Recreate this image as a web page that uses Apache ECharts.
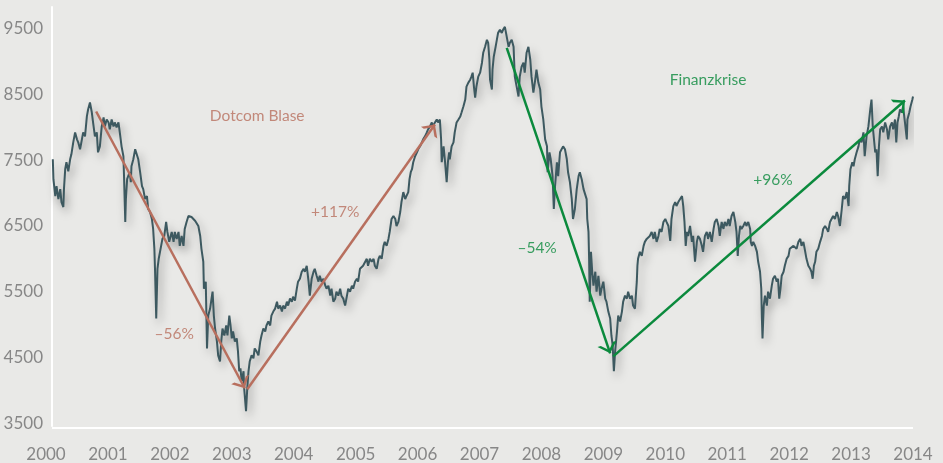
<!DOCTYPE html>
<html>
<head>
<meta charset="utf-8">
<script src="https://cdn.jsdelivr.net/npm/echarts@6/dist/echarts.min.js"></script>
<style>
html, body { margin: 0; padding: 0; background: #e9e9e7; }
#chart { width: 943px; height: 463px; }
</style>
</head>
<body>
<div id="chart"></div>
<script>
// Index (daily close) split by period: [year, value]
const smi2000 = [[2000.11,7515],[2000.12,7212],[2000.15,6954],[2000.17,7106],[2000.20,6909],[2000.23,7061],[2000.25,6864],[2000.28,6788],[2000.29,7061],[2000.31,7364],[2000.33,7470],[2000.36,7333],[2000.39,7515],[2000.41,7591],[2000.44,7773],[2000.47,7924],[2000.50,7818],[2000.52,7773],[2000.55,7667],[2000.58,7818],[2000.60,7924],[2000.63,7864],[2000.66,8167],[2000.68,8273],[2000.71,8379],[2000.74,8227],[2000.76,8076],[2000.79,7864],[2000.82,7924],[2000.84,7621],[2000.87,7712],[2000.90,8015],[2000.93,8152],[2000.95,8015],[2000.98,8121],[2001.01,8076],[2001.03,7970],[2001.06,8121],[2001.09,8015],[2001.11,8076],[2001.14,8000],[2001.17,8076],[2001.20,7864],[2001.22,7712],[2001.25,7561],[2001.26,7258],[2001.28,6561],[2001.29,6909],[2001.31,7212],[2001.35,7318],[2001.37,7167],[2001.38,7409],[2001.41,7515],[2001.44,7667],[2001.46,7697],[2001.49,7515],[2001.52,7318],[2001.55,7106],[2001.57,7061],[2001.60,6909],[2001.63,6954],[2001.65,6758],[2001.68,6712],[2001.71,6606],[2001.73,6455],[2001.75,6152],[2001.76,5848],[2001.78,5091],[2001.80,5848],[2001.82,6000],[2001.85,6152],[2001.88,6303],[2001.91,6348],[2001.94,6561],[2001.96,6409],[2001.99,6258],[2002.03,6409],[2002.06,6258],[2002.08,6409],[2002.11,6303],[2002.14,6409],[2002.16,6197],[2002.19,6348],[2002.22,6197],[2002.24,6455],[2002.27,6561],[2002.30,6652],[2002.33,6682],[2002.35,6636],[2002.38,6652],[2002.41,6576],[2002.43,6606],[2002.46,6500],[2002.49,6348]];
const smi2002 = [[2002.51,6152],[2002.54,5955],[2002.55,5545],[2002.58,5652],[2002.60,4636],[2002.62,5136],[2002.65,5242],[2002.68,5439],[2002.69,5500],[2002.71,5136],[2002.73,4939],[2002.76,4742],[2002.78,4530],[2002.81,4439],[2002.83,4742],[2002.85,4939],[2002.88,4833],[2002.91,4985],[2002.93,4833],[2002.96,5136],[2002.98,4985],[2003.00,4788],[2003.02,4894],[2003.05,4742],[2003.08,4788],[2003.10,4591],[2003.12,4288],[2003.14,4333],[2003.16,4136],[2003.19,4288],[2003.20,4030],[2003.23,3682],[2003.25,4030],[2003.27,4288],[2003.29,4439],[2003.32,4530],[2003.35,4485],[2003.37,4636],[2003.40,4591],[2003.43,4530],[2003.46,4742],[2003.48,4833],[2003.51,4939],[2003.54,4894],[2003.56,4985],[2003.59,5045],[2003.62,4985],[2003.64,5136],[2003.67,5197],[2003.70,5242],[2003.73,5348],[2003.75,5242],[2003.78,5288],[2003.81,5197],[2003.83,5288],[2003.86,5242],[2003.89,5348],[2003.91,5288],[2003.94,5394],[2003.97,5348],[2003.99,5424],[2004.02,5364],[2004.05,5545],[2004.07,5652],[2004.10,5697],[2004.13,5803],[2004.16,5848],[2004.18,5803],[2004.21,5894],[2004.24,5652],[2004.26,5439],[2004.29,5697],[2004.32,5803],[2004.34,5848],[2004.37,5742],[2004.40,5652],[2004.42,5742],[2004.45,5652],[2004.48,5697],[2004.51,5591],[2004.53,5545],[2004.56,5591],[2004.59,5439],[2004.61,5545],[2004.64,5348],[2004.67,5394],[2004.69,5500],[2004.72,5439],[2004.75,5545],[2004.77,5439],[2004.80,5394],[2004.83,5288],[2004.86,5439],[2004.88,5545],[2004.91,5500],[2004.94,5591],[2004.96,5545],[2004.99,5652],[2005.02,5697],[2005.04,5652]];
const smi2005 = [[2005.07,5848],[2005.12,5894],[2005.18,6000],[2005.20,5894],[2005.23,6000],[2005.26,5955],[2005.29,6000],[2005.31,5894],[2005.34,5848],[2005.37,6000],[2005.39,6045],[2005.42,6000],[2005.45,6197],[2005.47,6258],[2005.50,6197],[2005.53,6303],[2005.55,6409],[2005.58,6606],[2005.61,6652],[2005.64,6606],[2005.66,6500],[2005.69,6561],[2005.72,6712],[2005.74,6864],[2005.77,7015],[2005.80,6909],[2005.82,6954],[2005.85,7015],[2005.87,7212],[2005.89,7318],[2005.91,7364],[2005.93,7470],[2005.96,7561],[2005.99,7621],[2006.01,7667],[2006.04,7712],[2006.07,7773],[2006.09,7818],[2006.12,7864],[2006.15,7924],[2006.17,7970],[2006.20,8015],[2006.23,8076],[2006.25,8015],[2006.28,8076],[2006.31,8121],[2006.33,8076],[2006.36,8121],[2006.38,7818],[2006.39,7470],[2006.42,7712],[2006.44,7515],[2006.47,7167],[2006.49,7470],[2006.51,7621],[2006.52,7515],[2006.55,7712],[2006.58,7773],[2006.60,7924],[2006.63,8076],[2006.66,8121],[2006.69,8167],[2006.71,8227],[2006.74,8318],[2006.77,8424],[2006.79,8621],[2006.82,8682],[2006.85,8727],[2006.87,8773],[2006.89,8833],[2006.91,8621],[2006.93,8455],[2006.95,8621],[2006.98,8773],[2007.01,8833],[2007.04,8985],[2007.06,9136],[2007.09,9227],[2007.12,9333],[2007.14,9288],[2007.16,9030],[2007.17,8727],[2007.20,8576],[2007.21,8879],[2007.23,9076],[2007.26,9227],[2007.28,9333],[2007.30,9439],[2007.33,9485],[2007.36,9439],[2007.38,9485],[2007.41,9530],[2007.44,9379],[2007.47,9227]];
const smi2007 = [[2007.49,9288],[2007.52,9333],[2007.55,9227],[2007.57,8773],[2007.60,8621],[2007.63,8470],[2007.65,8773],[2007.68,8924],[2007.71,8985],[2007.73,8833],[2007.76,9136],[2007.79,9227],[2007.82,9030],[2007.84,8773],[2007.87,8530],[2007.90,8727],[2007.92,8879],[2007.95,8682],[2007.98,8576],[2008.00,8318],[2008.03,8121],[2008.06,7818],[2008.09,7712],[2008.10,7318],[2008.13,7621],[2008.15,7515],[2008.18,7258],[2008.20,6758],[2008.22,7106],[2008.25,7470],[2008.27,7258],[2008.30,7621],[2008.33,7621],[2008.35,7712],[2008.38,7667],[2008.41,7515],[2008.43,7318],[2008.46,7167],[2008.49,6909],[2008.51,6606],[2008.54,6758],[2008.57,7061],[2008.60,7258],[2008.62,7318],[2008.65,7212],[2008.68,7061],[2008.70,7061],[2008.73,6909],[2008.74,6606],[2008.76,6409],[2008.77,6000],[2008.78,5348],[2008.80,6106],[2008.82,5803],[2008.84,5591],[2008.87,5803],[2008.89,5500],[2008.92,5742],[2008.95,5439],[2008.97,5545],[2009.00,5652],[2009.03,5394],[2009.05,5348],[2009.08,5197],[2009.11,5091],[2009.13,4833],[2009.15,4682],[2009.17,4288],[2009.19,4591],[2009.22,4894],[2009.24,5136],[2009.27,5045],[2009.30,5197],[2009.32,5348],[2009.35,5439],[2009.38,5394],[2009.40,5500],[2009.43,5394],[2009.46,5439],[2009.48,5288],[2009.51,5242],[2009.54,5652],[2009.55,5894],[2009.56,6000],[2009.59,6106],[2009.62,6045],[2009.65,6197],[2009.67,6258],[2009.70,6303],[2009.73,6273],[2009.75,6348]];
const smi2009 = [[2009.78,6409],[2009.81,6303],[2009.83,6409],[2009.86,6258],[2009.89,6348],[2009.91,6455],[2009.94,6409],[2009.97,6561],[2010.00,6606],[2010.02,6561],[2010.05,6500],[2010.08,6273],[2010.10,6606],[2010.13,6803],[2010.16,6864],[2010.18,6803],[2010.21,6864],[2010.24,6909],[2010.27,6954],[2010.29,6803],[2010.31,6561],[2010.33,6197],[2010.35,6409],[2010.37,6348],[2010.40,6500],[2010.43,6258],[2010.45,6348],[2010.48,5955],[2010.51,6258],[2010.53,6348],[2010.56,6303],[2010.59,6197],[2010.61,6106],[2010.64,6348],[2010.67,6409],[2010.69,6303],[2010.72,6409],[2010.75,6258],[2010.78,6455],[2010.80,6561],[2010.83,6606],[2010.86,6500],[2010.88,6348],[2010.91,6561],[2010.94,6455],[2010.96,6561],[2010.99,6500],[2011.02,6606],[2011.04,6500],[2011.07,6652],[2011.10,6712],[2011.13,6561],[2011.15,6409],[2011.17,6045],[2011.19,6348],[2011.21,6500],[2011.23,6455],[2011.26,6500],[2011.29,6561],[2011.31,6500],[2011.34,6561],[2011.37,6455],[2011.38,6258],[2011.40,6197],[2011.42,6258],[2011.45,6197],[2011.48,6106],[2011.50,5955],[2011.53,5803],[2011.55,5545],[2011.56,5091],[2011.57,4788],[2011.59,5288],[2011.61,5439],[2011.64,5288],[2011.66,5500],[2011.69,5394],[2011.72,5591],[2011.74,5697],[2011.77,5742],[2011.80,5652],[2011.82,5697],[2011.84,5394],[2011.86,5545],[2011.88,5742],[2011.91,5803],[2011.93,5894],[2011.96,6000],[2011.99,6045],[2012.01,6152]];
const smi2012 = [[2012.07,6197],[2012.12,6152],[2012.15,6258],[2012.18,6303],[2012.20,6197],[2012.23,6258],[2012.26,6106],[2012.28,6000],[2012.31,5894],[2012.34,5848],[2012.36,5803],[2012.38,5697],[2012.40,5894],[2012.42,5955],[2012.44,6106],[2012.47,6152],[2012.50,6258],[2012.53,6348],[2012.55,6455],[2012.58,6500],[2012.61,6455],[2012.63,6409],[2012.66,6561],[2012.69,6561],[2012.71,6652],[2012.74,6606],[2012.77,6712],[2012.79,6652],[2012.82,6500],[2012.85,6758],[2012.87,6955],[2012.90,6909],[2012.93,7015],[2012.96,6803],[2012.97,7106],[2012.99,7364],[2013.02,7470],[2013.04,7409],[2013.06,7515],[2013.09,7621],[2013.12,7712],[2013.14,7818],[2013.17,7773],[2013.20,7924],[2013.22,7561],[2013.25,7864],[2013.28,8015],[2013.31,8273],[2013.33,8424],[2013.35,8015],[2013.37,7818],[2013.39,7621],[2013.41,7667],[2013.43,7258],[2013.45,7712],[2013.47,7970],[2013.50,8015],[2013.52,7924],[2013.55,8076],[2013.58,7970],[2013.60,7818],[2013.63,8015],[2013.66,8076],[2013.68,7970],[2013.71,8121],[2013.73,7773],[2013.75,8076],[2013.77,8167],[2013.79,8273],[2013.82,8227],[2013.84,8318],[2013.87,8076],[2013.90,7818],[2013.91,8121],[2013.94,8227],[2013.96,8318],[2013.99,8424],[2014.00,8470]];

// Trend arrows: [start, end]
const dotcomArrows = [[[2000.81, 8242], [2003.21, 4030]], [[2003.25, 4015], [2006.28, 8045]]];
const finanzArrows = [[[2007.44, 9212], [2009.11, 4561]], [[2009.16, 4515], [2013.87, 8409]]];

// Annotations: [year, value, text]
const dotcomNotes = [[2003.41, 8167, 'Dotcom Blase'], [2004.67, 6712, '+117%'], [2002.07, 4848, '–56%']];
const finanzNotes = [[2010.69, 8727, 'Finanzkrise'], [2011.74, 7197, '+96%'], [2007.93, 6167, '–54%']];

const xTicks = [2000, 2001, 2002, 2003, 2004, 2005, 2006, 2007, 2008, 2009, 2010, 2011, 2012, 2013, 2014];
const yTicks = [3500, 4500, 5500, 6500, 7500, 8500, 9500];

const smiData = [].concat(smi2000, smi2002, smi2005, smi2007, smi2009, smi2012);

const BROWN = '#b86f5e';
const GREEN = '#0b8a3d';
// open chevron, apex at the centre of its box
const CHEVRON = 'path://M10,0 L10.01,0 L10,0.01 Z M10,10 L20,20 L16.5,20 L10,13.5 L3.5,20 L0,20 Z';

function arrowSeries(arrows, color) {
  return {
    type: 'line',
    data: [],
    z: 4,
    markLine: {
      silent: true,
      animation: false,
      symbol: ['none', CHEVRON],
      symbolSize: [20, 20],
      label: { show: false },
      lineStyle: { color: color, width: 2.5, type: 'solid' },
      emphasis: { disabled: true },
      data: arrows.map(a => [{ coord: a[0] }, { coord: a[1] }])
    }
  };
}

function noteSeries(notes, color) {
  return {
    type: 'scatter',
    symbolSize: 0,
    z: 5,
    silent: true,
    data: notes,
    label: {
      show: true,
      position: 'inside',
      formatter: p => p.data[2],
      color: color,
      fontSize: 15.5,
      fontFamily: 'Lato'
    }
  };
}

var myChart = echarts.init(document.getElementById('chart'));
myChart.setOption({
  backgroundColor: '#e9e9e7',
  animation: false,
  textStyle: { fontFamily: 'Lato' },
  grid: { left: 46, right: 30, top: 7, bottom: 35 },
  xAxis: {
    type: 'value',
    min: 2000,
    max: 2014,
    axisLine: { show: false },
    axisTick: { show: false },
    splitLine: { show: false },
    axisLabel: {
      customValues: xTicks,
      formatter: v => String(v),
      color: '#878787',
      fontSize: 17,
      margin: 20
    }
  },
  yAxis: {
    type: 'value',
    min: 3455,
    max: 9833,
    offset: -6,
    axisLine: { show: true, lineStyle: { color: '#ffffff', width: 2 } },
    axisTick: { show: false },
    splitLine: { show: false },
    axisLabel: {
      customValues: yTicks,
      formatter: v => String(v),
      color: '#878787',
      fontSize: 17,
      margin: 9
    }
  },
  graphic: [
    {
      type: 'line',
      shape: { x1: 52, y1: 428, x2: 913, y2: 428 },
      style: { stroke: '#ffffff', lineWidth: 2 },
      silent: true
    }
  ],
  series: [
    {
      type: 'line',
      data: smiData,
      showSymbol: false,
      z: 2,
      lineStyle: {
        color: '#3d5960',
        width: 2,
        shadowColor: 'rgba(0,0,0,0.35)',
        shadowBlur: 10,
        shadowOffsetX: 3,
        shadowOffsetY: 5
      },
      emphasis: { disabled: true }
    },
    arrowSeries(dotcomArrows, BROWN),
    arrowSeries(finanzArrows, GREEN),
    noteSeries(dotcomNotes, BROWN),
    noteSeries(finanzNotes, GREEN)
  ]
});
</script>
</body>
</html>
